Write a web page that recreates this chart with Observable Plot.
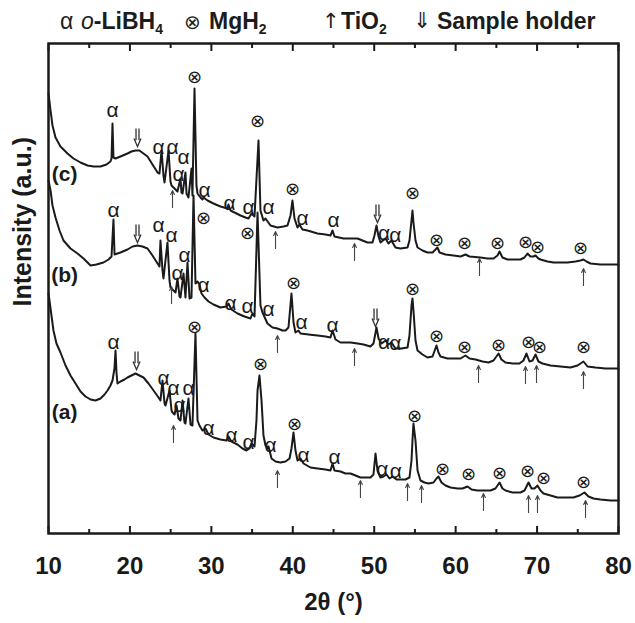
<!DOCTYPE html>
<html>
<head>
<meta charset="utf-8">
<script src="https://cdn.jsdelivr.net/npm/d3@7"></script>
<script src="https://cdn.jsdelivr.net/npm/@observablehq/plot@0.6"></script>
<style>
  body { margin: 0; background: #fff; }
  #chart { position: relative; width: 635px; height: 623px; font-family: "Liberation Sans", Arial, sans-serif; color: #1c1c1c; }
  #legend span { position: absolute; top: 7px; font-size: 23px; line-height: 28px; font-weight: bold; white-space: nowrap; }
  #legend .sym { font-weight: normal; font-family: "DejaVu Sans", sans-serif; color: #222; }
  #legend i { font-weight: normal; }
  #legend sub { font-size: 14px; vertical-align: -5px; line-height: 0; }
  #chart svg { position: absolute; left: 0; top: 0; }
</style>
</head>
<body>
<div id="chart">
  <div id="legend">
    <span class="sym" style="left:60px;font-family:'Liberation Sans',sans-serif">α</span>
    <span style="left:81px"><i>o</i>-LiBH<sub>4</sub></span>
    <span class="sym" style="left:184px;font-size:20px;top:8px">⊗</span>
    <span style="left:209px">MgH<sub>2</sub></span>
    <span class="sym" style="left:322px;font-size:21px">↑</span>
    <span style="left:341px">TiO<sub>2</sub></span>
    <span class="sym" style="left:413px;font-size:22px">⇓</span>
    <span style="left:437px">Sample holder</span>
  </div>
</div>
<script>
// XRD patterns: [2θ (°), intensity (a.u., offset per sample)]
const traceC = [
  [10.00,440],[10.25,423],[10.49,408],[10.86,396],[11.47,387],[12.33,380],[13.07,375],[13.93,371],[14.79,368],[15.53,367],
  [16.39,367],[17.12,369],[17.61,372],[17.74,375],[17.86,410],[17.98,376],[18.23,375],[18.84,377],[19.70,380],[20.19,382],
  [20.68,383],[21.17,383],[21.67,380],[22.16,377],[22.77,369],[23.39,361],[23.63,360],[23.88,383],[24.12,358],[24.25,351],
  [24.74,383],[24.98,352],[25.11,348],[25.60,344],[25.84,342],[26.21,355],[26.33,341],[26.46,340],[26.82,361],[26.95,340],
  [27.19,336],[27.56,365],[27.68,338],[27.93,445],[28.17,348],[28.30,340],[28.67,336],[28.91,334],[29.04,336],[29.53,333],
  [30.26,330],[31.12,327],[31.98,325],[32.10,329],[32.35,323],[33.58,318],[34.19,316],[34.56,315],[34.93,320],[35.30,317],
  [35.79,393],[36.03,323],[36.40,313],[36.65,315],[37.26,308],[38.12,306],[38.86,307],[39.35,308],[39.72,318],[39.96,333],
  [40.21,315],[40.58,306],[40.82,309],[41.19,304],[41.81,303],[43.03,300],[44.02,299],[44.63,298],[44.88,303],[45.12,297],
  [46.23,295],[47.09,295],[47.95,295],[48.56,293],[49.17,291],[49.79,291],[50.03,298],[50.28,308],[50.53,297],[50.77,291],
  [51.39,295],[51.75,290],[52.12,293],[52.61,286],[53.23,285],[54.09,286],[54.33,293],[54.58,313],[54.70,323],[54.82,311],
  [55.07,293],[55.32,286],[55.93,283],[56.54,281],[57.16,281],[57.53,284],[57.77,286],[58.02,281],[58.75,279],[59.74,278],
  [60.60,277],[61.21,279],[61.70,277],[63.05,276],[63.91,275],[64.65,275],[65.14,278],[65.39,282],[65.75,276],[66.37,274],
  [67.35,274],[67.96,274],[68.46,276],[68.82,280],[69.19,277],[69.56,277],[69.81,278],[70.17,275],[70.42,274],[71.28,272],
  [72.02,271],[72.87,271],[73.74,271],[74.72,272],[75.33,273],[75.70,274],[76.07,272],[76.56,270],[77.79,269],[79.02,269],
  [80.00,269]
];

const traceB = [
  [10.00,353],[10.25,343],[10.49,328],[10.86,316],[11.35,303],[11.84,293],[12.70,285],[13.56,280],[14.30,275],[15.16,268],
  [15.89,269],[16.75,271],[17.37,274],[17.74,277],[17.98,314],[18.11,279],[18.84,281],[19.70,284],[20.32,287],[20.93,288],
  [21.54,287],[22.16,285],[22.77,278],[23.39,270],[23.63,267],[23.75,293],[24.00,263],[24.12,255],[24.61,291],[24.86,253],
  [24.98,246],[25.35,243],[25.60,241],[25.84,255],[26.09,237],[26.21,236],[26.58,260],[26.82,236],[27.07,271],[27.32,235],
  [27.56,236],[27.81,338],[28.05,250],[28.30,252],[28.54,249],[28.79,240],[29.16,236],[29.65,232],[30.26,229],[31.12,226],
  [31.86,227],[32.10,230],[32.47,224],[33.21,220],[34.07,217],[34.81,215],[35.05,220],[35.30,217],[35.67,321],[36.03,228],
  [36.28,221],[36.89,210],[37.51,206],[38.12,205],[38.74,203],[39.11,203],[39.47,206],[39.84,240],[40.09,211],[40.33,201],
  [40.70,203],[40.95,200],[41.93,199],[43.03,198],[44.02,197],[44.63,196],[44.88,203],[45.25,194],[45.86,191],[47.09,191],
  [47.95,190],[48.69,189],[49.54,187],[49.91,190],[50.28,206],[50.53,195],[50.90,190],[51.39,193],[51.75,189],[52.12,191],
  [52.61,185],[53.35,185],[54.09,186],[54.33,198],[54.58,228],[54.70,235],[54.82,223],[55.07,193],[55.32,183],[55.93,179],
  [56.54,176],[57.16,177],[57.65,188],[57.89,181],[58.14,177],[59.00,175],[59.74,175],[60.60,175],[61.21,178],[61.70,175],
  [62.44,174],[63.30,172],[64.04,171],[64.65,173],[65.27,180],[65.63,174],[66.12,171],[66.98,170],[67.84,170],[68.33,173],
  [68.70,180],[69.07,172],[69.44,173],[69.81,179],[70.17,172],[70.66,170],[71.65,168],[72.87,167],[74.10,166],[74.97,168],
  [75.70,172],[76.19,167],[77.17,166],[78.40,165],[80.00,165]
];

const traceA = [
  [10.00,240],[10.25,225],[10.61,203],[10.98,190],[11.47,181],[12.09,168],[12.70,158],[13.32,150],[13.93,142],[14.54,137],
  [15.16,134],[15.77,133],[16.39,135],[16.88,139],[17.25,143],[17.61,148],[17.86,153],[18.10,165],[18.23,183],[18.35,161],
  [18.47,150],[18.84,152],[19.33,154],[19.70,156],[20.19,158],[20.68,160],[21.17,158],[21.67,156],[22.28,150],[22.90,143],
  [23.51,136],[23.75,133],[24.00,153],[24.25,130],[24.37,128],[24.86,143],[25.11,123],[25.23,121],[25.48,119],[25.72,128],
  [25.96,115],[26.21,113],[26.46,133],[26.70,111],[26.82,110],[27.19,135],[27.44,109],[27.68,108],[28.05,200],[28.30,113],
  [28.54,108],[28.91,103],[29.28,105],[29.65,99],[30.26,96],[31.12,94],[31.86,93],[32.10,97],[32.47,92],[33.21,89],
  [33.82,85],[34.31,83],[34.68,85],[34.93,90],[35.30,87],[35.54,113],[35.67,143],[35.91,158],[36.16,133],[36.40,98],
  [36.65,88],[36.89,85],[37.02,87],[37.39,75],[37.88,72],[38.49,71],[39.11,72],[39.60,75],[39.84,85],[40.09,101],
  [40.33,83],[40.58,73],[40.95,75],[41.32,70],[42.17,66],[43.03,65],[44.02,64],[44.63,63],[44.88,70],[45.12,63],
  [45.86,62],[46.47,60],[47.09,60],[47.70,58],[48.31,56],[48.93,56],[49.54,56],[49.91,59],[50.16,80],[50.40,63],
  [50.77,56],[51.14,57],[51.51,59],[51.88,55],[52.24,57],[52.74,54],[53.23,54],[53.84,54],[54.33,56],[54.58,73],
  [54.70,93],[54.82,110],[55.07,93],[55.32,63],[55.68,53],[56.18,51],[56.67,50],[57.28,51],[57.65,55],[57.89,57],
  [58.26,51],[58.75,48],[59.37,46],[60.23,45],[60.84,45],[61.46,47],[61.95,44],[62.68,43],[63.54,43],[64.28,43],
  [64.89,45],[65.39,51],[65.75,45],[66.12,43],[66.98,41],[67.96,41],[68.46,43],[68.95,51],[69.32,45],[69.68,45],
  [70.05,48],[70.42,43],[70.79,40],[71.65,38],[72.51,36],[73.49,36],[74.47,36],[75.21,38],[75.82,41],[76.31,37],
  [76.93,35],[77.79,34],[79.02,33],[80.00,33]
];

// Phase markers: [2θ, height of the marker]
const alphaPeaks = [
  [17.86,423],[23.51,386],[25.23,386],[26.58,376],[25.96,359],[29.16,343],[32.23,330],[34.56,326],[37.02,326],[41.19,315],[45.00,313],[51.20,300],[52.60,298],
  [17.98,323],[23.51,308],[25.11,298],[26.70,278],[25.84,260],[29.04,248],[32.35,230],[34.44,227],[37.02,224],[41.07,211],[44.88,208],[51.20,191],[52.60,190],
  [17.98,191],[24.12,155],[25.35,145],[27.19,145],[26.09,128],[29.65,105],[32.47,98],[34.56,91],[37.26,88],[41.32,78],[45.12,76],[51.00,64],[52.65,62]
];
const mgh2Peaks = [
  [27.93,456],[35.67,412],[39.96,344],[54.70,340],[57.65,293],[61.09,290],[65.14,290],[68.60,291],[70.05,286],[75.33,285],
  [29.04,315],[34.44,300],[40.09,250],[54.70,244],[57.65,197],[61.09,186],[65.27,188],[68.95,191],[70.30,186],[75.70,186],
  [27.93,206],[36.03,169],[40.21,109],[54.95,117],[58.39,64],[61.58,59],[65.39,60],[68.82,62],[70.79,55],[75.70,51]
];
const holderPeaks = [[20.93,396],[50.40,320],[20.93,300],[50.16,216],[20.81,173]];
const tio2Peaks = [
  [25.23,326],[37.88,285],[47.58,273],[62.93,258],[75.70,248],
  [25.11,230],[38.12,181],[47.58,168],[62.81,151],[68.58,150],[69.93,151],[75.70,145],
  [25.35,91],[38.12,46],[48.31,36],[54.09,33],[55.81,31],[63.42,23],[68.95,21],[70.05,21],[75.95,16]
];
const sampleNames = ["(c)", "(b)", "(a)"];
const sampleLabelPos = [[11.97,359],[11.97,258],[11.97,121]];

const majorTicks = [10, 20, 30, 40, 50, 60, 70, 80];
const minorTicks = [15, 25, 35, 45, 55, 65, 75];

const X = d => d[0], Y = d => d[1];
const ink = "#1a1a1a";

// Open double-shafted downward arrow (⇓) drawn as a dot symbol
const doubleDownArrow = {
  draw(context, size) {
    const h = Math.sqrt(size / Math.PI);
    const w = h * 0.3;
    context.moveTo(-w * 0.55, -h); context.lineTo(-w * 0.55, h * 0.3);
    context.moveTo(w * 0.55, -h); context.lineTo(w * 0.55, h * 0.3);
    context.moveTo(-w * 1.3, h * 0.1); context.lineTo(0, h); context.lineTo(w * 1.3, h * 0.1);
  }
};

const chart = Plot.plot({
  width: 635,
  height: 623,
  marginLeft: 48,
  marginRight: 17,
  marginTop: 43,
  marginBottom: 90,
  style: { fontFamily: "'Liberation Sans', Arial, sans-serif", background: "transparent", color: ink },
  x: { domain: [10, 80] },
  y: { domain: [0, 490], axis: null },
  marks: [
    Plot.line(traceA, { x: X, y: Y, stroke: ink, strokeWidth: 2, strokeLinejoin: "round" }),
    Plot.line(traceB, { x: X, y: Y, stroke: ink, strokeWidth: 2, strokeLinejoin: "round" }),
    Plot.line(traceC, { x: X, y: Y, stroke: ink, strokeWidth: 2, strokeLinejoin: "round" }),
    Plot.text(alphaPeaks, { x: X, y: Y, text: () => "α", fontSize: 21, fill: ink }),
    Plot.text(mgh2Peaks, { x: X, y: Y, text: () => "⊗", fontSize: 18, fontFamily: "DejaVu Sans", fill: ink }),
    Plot.dot(holderPeaks, { x: X, y: Y, symbol: doubleDownArrow, r: 9, fill: "none", stroke: "#333", strokeWidth: 1.3 }),
    Plot.arrow(tio2Peaks, { x1: X, x2: X, y1: Y, y2: d => d[1] + 17, stroke: "#444", strokeWidth: 1.1, headLength: 6, headAngle: 50 }),
    Plot.text(sampleLabelPos, { x: X, y: Y, text: (d, i) => sampleNames[i], fontSize: 21, fontWeight: "bold", fill: ink }),
    Plot.axisX(majorTicks, { anchor: "bottom", tickSize: -7, tickPadding: 30, fontSize: 24, fontWeight: "bold", label: null, stroke: ink, strokeWidth: 2 }),
    Plot.axisX(minorTicks, { anchor: "bottom", tickSize: -4, tickFormat: () => "", label: null, stroke: ink, strokeWidth: 2 }),
    Plot.axisX(majorTicks, { anchor: "top", tickSize: -7, tickFormat: () => "", label: null, stroke: ink, strokeWidth: 2 }),
    Plot.axisX(minorTicks, { anchor: "top", tickSize: -4, tickFormat: () => "", label: null, stroke: ink, strokeWidth: 2 }),
    Plot.frame({ stroke: ink, strokeWidth: 2.5 }),
    Plot.text(["Intensity (a.u.)"], { frameAnchor: "left", dx: -26, dy: 18, rotate: -90, fontSize: 25, fontWeight: "bold", fill: ink }),
    Plot.text(["2θ (°)"], { frameAnchor: "bottom", dy: 76, fontSize: 24, fontWeight: "bold", fill: ink })
  ]
});

document.getElementById("chart").appendChild(chart);
</script>
</body>
</html>
